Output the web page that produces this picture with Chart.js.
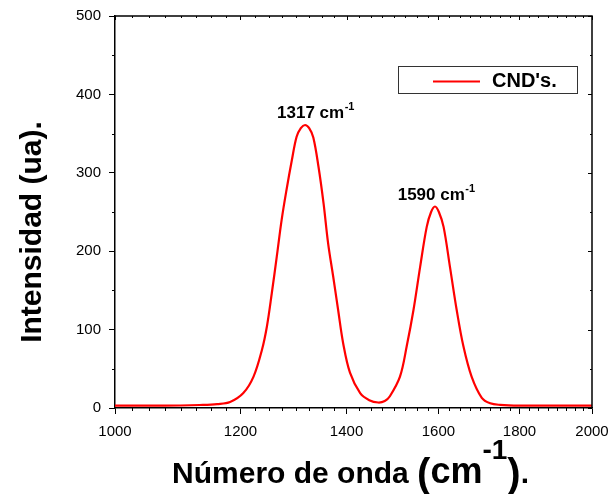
<!DOCTYPE html>
<html>
<head>
<meta charset="utf-8">
<script src="https://cdn.jsdelivr.net/npm/chart.js@4/dist/chart.umd.min.js"></script>
<style>
  html, body { margin: 0; padding: 0; background: #ffffff; }
  canvas { display: block; }
</style>
</head>
<body>
<canvas id="c" width="613" height="494"></canvas>
<script>
// ---- data ----
const wavenumbers = [1000, 1050, 1100, 1131, 1160, 1182, 1205, 1223, 1238, 1247, 1256, 1265, 1274, 1283, 1293, 1302, 1310, 1318, 1326, 1334, 1344, 1354, 1363, 1373, 1383, 1393, 1407, 1428, 1447, 1466, 1480, 1491, 1513, 1528, 1543, 1558, 1573, 1583, 1592, 1601, 1612, 1627, 1643, 1659, 1679, 1704, 1725, 1750, 1800, 1900, 2000];
const intensity   = [3, 3, 3.2, 3.8, 5, 7.6, 19, 40, 74, 104, 147, 193, 240, 278, 316, 346, 357, 361, 357, 345, 308, 261, 210, 168, 125, 83, 45, 19, 10, 7, 9, 15, 40, 79, 125, 180, 231, 250, 257, 250, 231, 180, 125, 79, 40, 13, 6, 4, 3, 3, 3];
const xTickValues = [1000, 1200, 1400, 1600, 1800, 2000];
const xMinorStep = 25;
const yTickValues = [0, 100, 200, 300, 400, 500];
const yMinorStep = 50;
const seriesLabel = "CND's.";
const peakLabels = [
  { x: 1317, y: 361, text: '1317 cm', sup: '-1' },
  { x: 1590, y: 257, text: '1590 cm', sup: '-1' }
];
const xTitleParts = ['Número de onda ', '(', 'cm', '-1', ')', '.'];
const yTitle = 'Intensidad (ua).';

// styling only
const peakLabelShift = [9, 0];
const FONT = '"Liberation Sans", Arial, Helvetica, sans-serif';

const decorPlugin = {
  id: 'decor',
  afterDraw(chart) {
    const ctx = chart.ctx;
    const a = chart.chartArea;
    const xs = chart.scales.x, ys = chart.scales.y;
    ctx.save();
    ctx.strokeStyle = '#000';
    // top & right frame
    ctx.lineWidth = 1.5;
    ctx.beginPath();
    ctx.moveTo(a.left, a.top); ctx.lineTo(a.right, a.top); ctx.lineTo(a.right, a.bottom);
    ctx.stroke();
    // minor + mirrored ticks
    ctx.lineWidth = 1;
    ctx.beginPath();
    for (let v = xTickValues[0]; v <= xTickValues[xTickValues.length - 1]; v += xMinorStep) {
      const px = Math.round(xs.getPixelForValue(v)) + 0.5;
      const major = xTickValues.includes(v);
      if (!major) { ctx.moveTo(px, a.bottom); ctx.lineTo(px, a.bottom + 3); }
      ctx.moveTo(px, a.top); ctx.lineTo(px, a.top + (major ? 4 : 2));
    }
    for (let v = yTickValues[0]; v <= yTickValues[yTickValues.length - 1]; v += yMinorStep) {
      const py = Math.round(ys.getPixelForValue(v)) + 0.5;
      const major = yTickValues.includes(v);
      if (!major) { ctx.moveTo(a.left, py); ctx.lineTo(a.left - 3, py); }
      ctx.moveTo(a.right, py); ctx.lineTo(a.right - (major ? 4 : 2), py);
    }
    ctx.stroke();

    // peak annotations
    ctx.fillStyle = '#000';
    ctx.textBaseline = 'alphabetic';
    peakLabels.forEach((p, i) => {
      ctx.font = 'bold 17px ' + FONT;
      const w1 = ctx.measureText(p.text).width;
      ctx.font = 'bold 11px ' + FONT;
      const w2 = ctx.measureText(p.sup).width;
      const cx = xs.getPixelForValue(p.x);
      const by = ys.getPixelForValue(p.y) - 7;
      const left = cx - (w1 + w2) / 2 + 2 + peakLabelShift[i];
      ctx.font = 'bold 17px ' + FONT;
      ctx.fillText(p.text, left, by);
      ctx.font = 'bold 11px ' + FONT;
      ctx.fillText(p.sup, left + w1 + 0.5, by - 8);
    });

    // legend box
    const ds = chart.data.datasets[0];
    const lx = 398, ly = 66, lw = 179, lh = 27;
    ctx.fillStyle = '#fff';
    ctx.fillRect(lx, ly, lw, lh);
    ctx.strokeStyle = '#333';
    ctx.lineWidth = 1;
    ctx.strokeRect(lx + 0.5, ly + 0.5, lw, lh);
    ctx.strokeStyle = ds.borderColor;
    ctx.lineWidth = 2;
    ctx.beginPath(); ctx.moveTo(433, ly + 15.5); ctx.lineTo(480, ly + 15.5); ctx.stroke();
    ctx.fillStyle = '#000';
    ctx.font = 'bold 20px ' + FONT;
    ctx.textBaseline = 'middle';
    ctx.textAlign = 'left';
    ctx.fillText(ds.label, 492, ly + 15);

    // y title
    ctx.save();
    ctx.translate(33, 232);
    ctx.rotate(-Math.PI / 2);
    ctx.textAlign = 'center';
    ctx.textBaseline = 'middle';
    ctx.font = 'bold 30px ' + FONT;
    ctx.fillText(yTitle, 0, 0);
    ctx.restore();

    // x title with superscript
    const sizes = [30, 40, 36, 28, 40, 30];
    const rises = [0, 2, 0, 24, 2, 0];
    let total = 0;
    const widths = xTitleParts.map((t, i) => {
      ctx.font = 'bold ' + sizes[i] + 'px ' + FONT;
      const w = ctx.measureText(t).width; total += w; return w;
    });
    let x = (a.left + a.right) / 2 - total / 2 - 3;
    const base = 483;
    ctx.textAlign = 'left';
    ctx.textBaseline = 'alphabetic';
    xTitleParts.forEach((t, i) => {
      ctx.font = 'bold ' + sizes[i] + 'px ' + FONT;
      ctx.fillText(t, x, base - rises[i] + (i === 1 || i === 4 ? 6 : 0));
      x += widths[i];
    });
    ctx.restore();
  }
};

const points = wavenumbers.map((w, i) => ({ x: w, y: intensity[i] }));

new Chart(document.getElementById('c'), {
  type: 'line',
  data: {
    datasets: [{
      label: seriesLabel,
      data: points,
      borderColor: '#ff0000',
      borderWidth: 2.2,
      pointRadius: 0,
      fill: false,
      tension: 0.35
    }]
  },
  options: {
    responsive: false,
    animation: false,
    devicePixelRatio: 1,
    layout: { padding: { left: 0, right: 21, top: 16, bottom: 0 } },
    plugins: { legend: { display: false }, tooltip: { enabled: false } },
    scales: {
      x: {
        type: 'logarithmic',
        min: 1000, max: 2000,
        afterBuildTicks: s => { s.ticks = xTickValues.map(v => ({ value: v })); },
        afterFit: s => { s.height = 86; s.paddingLeft = 0; s.paddingRight = 0; },
        grid: { drawOnChartArea: false, drawTicks: true, tickLength: 6, color: '#000', lineWidth: 1 },
        border: { display: true, color: '#000', width: 1.5 },
        ticks: {
          autoSkip: false, maxRotation: 0, padding: 9,
          color: '#000', font: { family: FONT, size: 15 },
          callback: v => String(v)
        }
      },
      y: {
        type: 'linear',
        min: 0, max: 500,
        afterBuildTicks: s => { s.ticks = yTickValues.map(v => ({ value: v })); },
        afterFit: s => { s.width = 115; s.paddingTop = 0; s.paddingBottom = 0; },
        grid: { drawOnChartArea: false, drawTicks: true, tickLength: 6, color: '#000', lineWidth: 1 },
        border: { display: true, color: '#000', width: 1.5 },
        ticks: {
          padding: 8, color: '#000', font: { family: FONT, size: 15 },
          callback: v => String(v)
        }
      }
    }
  },
  plugins: [decorPlugin]
});
</script>
</body>
</html>
